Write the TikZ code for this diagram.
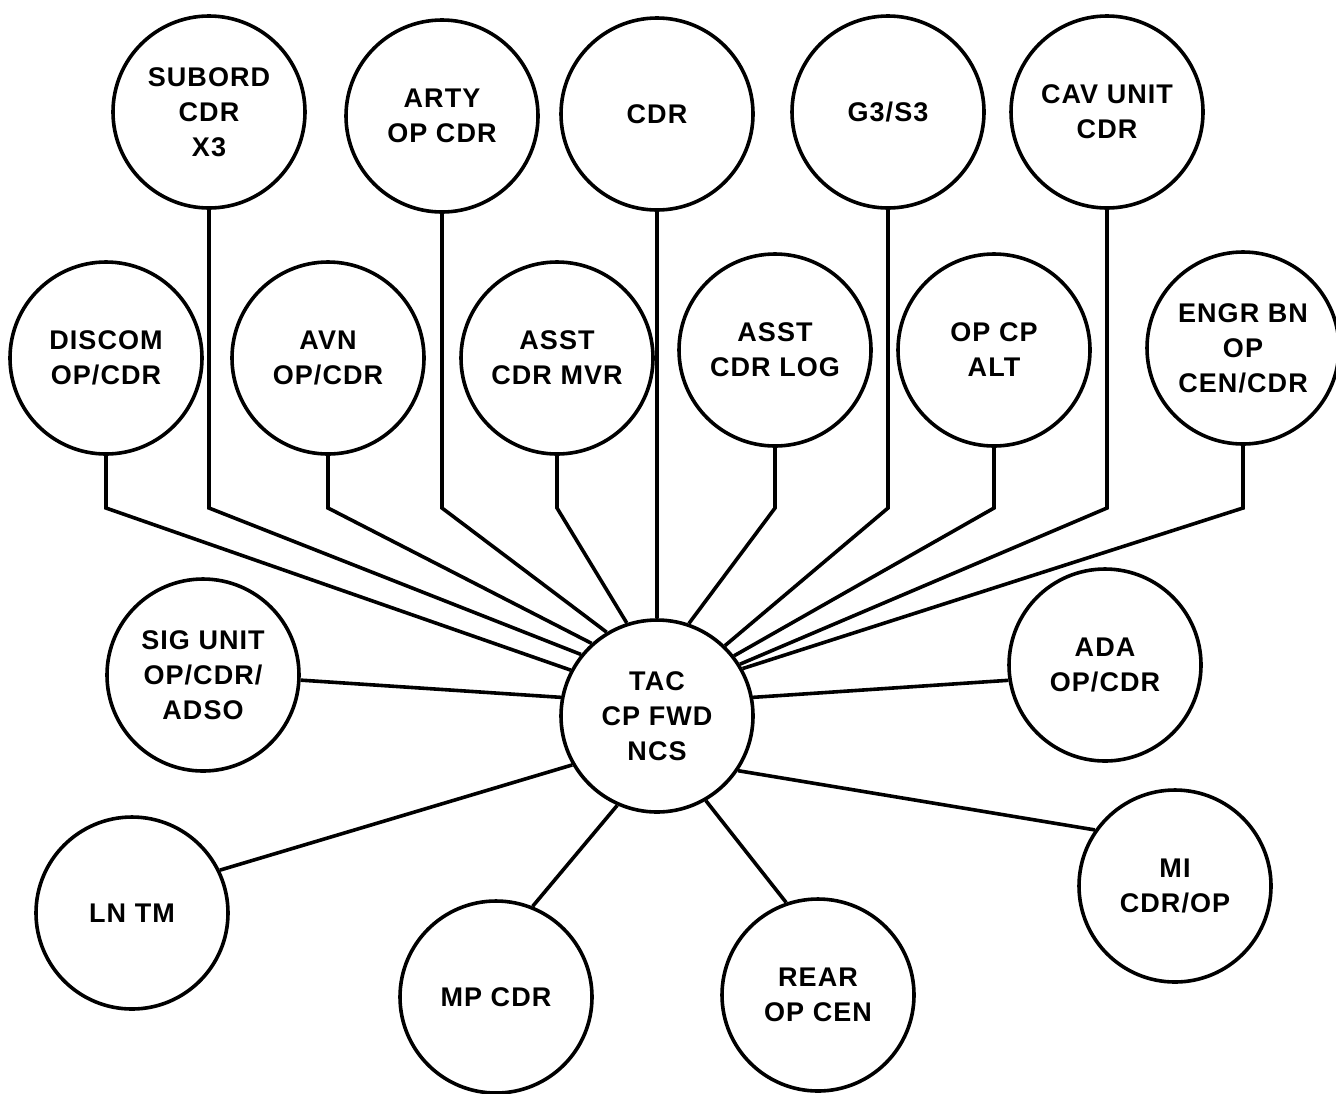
\documentclass[tikz,border=0pt]{standalone}
\usepackage{fontspec}
\newfontfamily\stnfont{Liberation Sans}[LetterSpace=4]

\begin{document}
\begin{tikzpicture}[x=0.5pt,y=-0.5pt,line width=1.8pt,
    stn/.style={draw=black,circle,minimum size=96pt,inner sep=0pt,align=center,
        font=\stnfont\bfseries\fontsize{13.5}{17.5}\selectfont}]
        \useasboundingbox (0,0) rectangle (1336,1093);

        \node[stn] (subord) at (209,112) {SUBORD\\CDR\\X3};
        \node[stn] (arty) at (442,116) {ARTY\\OP CDR};
        \node[stn] (cdr) at (657,114) {CDR};
        \node[stn] (g3) at (888,112) {G3/S3};
        \node[stn] (cav) at (1107,112) {CAV UNIT\\CDR};

        \node[stn] (discom) at (106,358) {DISCOM\\OP/CDR};
        \node[stn] (avn) at (328,358) {AVN\\OP/CDR};
        \node[stn] (asstmvr) at (557,358) {ASST\\CDR MVR};
        \node[stn] (asstlog) at (775,350) {ASST\\CDR LOG};
        \node[stn] (opcp) at (994,350) {OP CP\\ALT};
        \node[stn] (engr) at (1243,348) {ENGR BN\\OP\\CEN/CDR};

        \node[stn] (sig) at (203,675) {SIG UNIT\\OP/CDR/\\ADSO};
        \node[stn] (tac) at (657,716) {TAC\\CP FWD\\NCS};
        \node[stn] (ada) at (1105,665) {ADA\\OP/CDR};

        \node[stn] (lntm) at (132,913) {LN TM};
        \node[stn] (mpcdr) at (496,997) {MP CDR};
        \node[stn] (rear) at (818,995) {REAR\\OP CEN};
        \node[stn] (mi) at (1175,886) {MI\\CDR/OP};

        \coordinate (kink) at (0,508);
        \foreach \n/\a in {discom/152,subord/141,avn/132,arty/121,asstmvr/108,
                asstlog/71,g3/46,opcp/38,cav/32,engr/29}
            \draw (\n.south) -- (\n.south |- kink) -- (tac.\a);

        \draw (cdr) -- (tac);
        \draw (sig.-3) -- (tac.169);
        \draw (ada.189) -- (tac.11);
        \draw (lntm.26) -- (tac.210);
        \draw (mpcdr.68) -- (tac.246);
        \draw (rear.109) -- (tac.300);
        \draw (mi.145) -- (tac.326);

    \end{tikzpicture}
\end{document}
